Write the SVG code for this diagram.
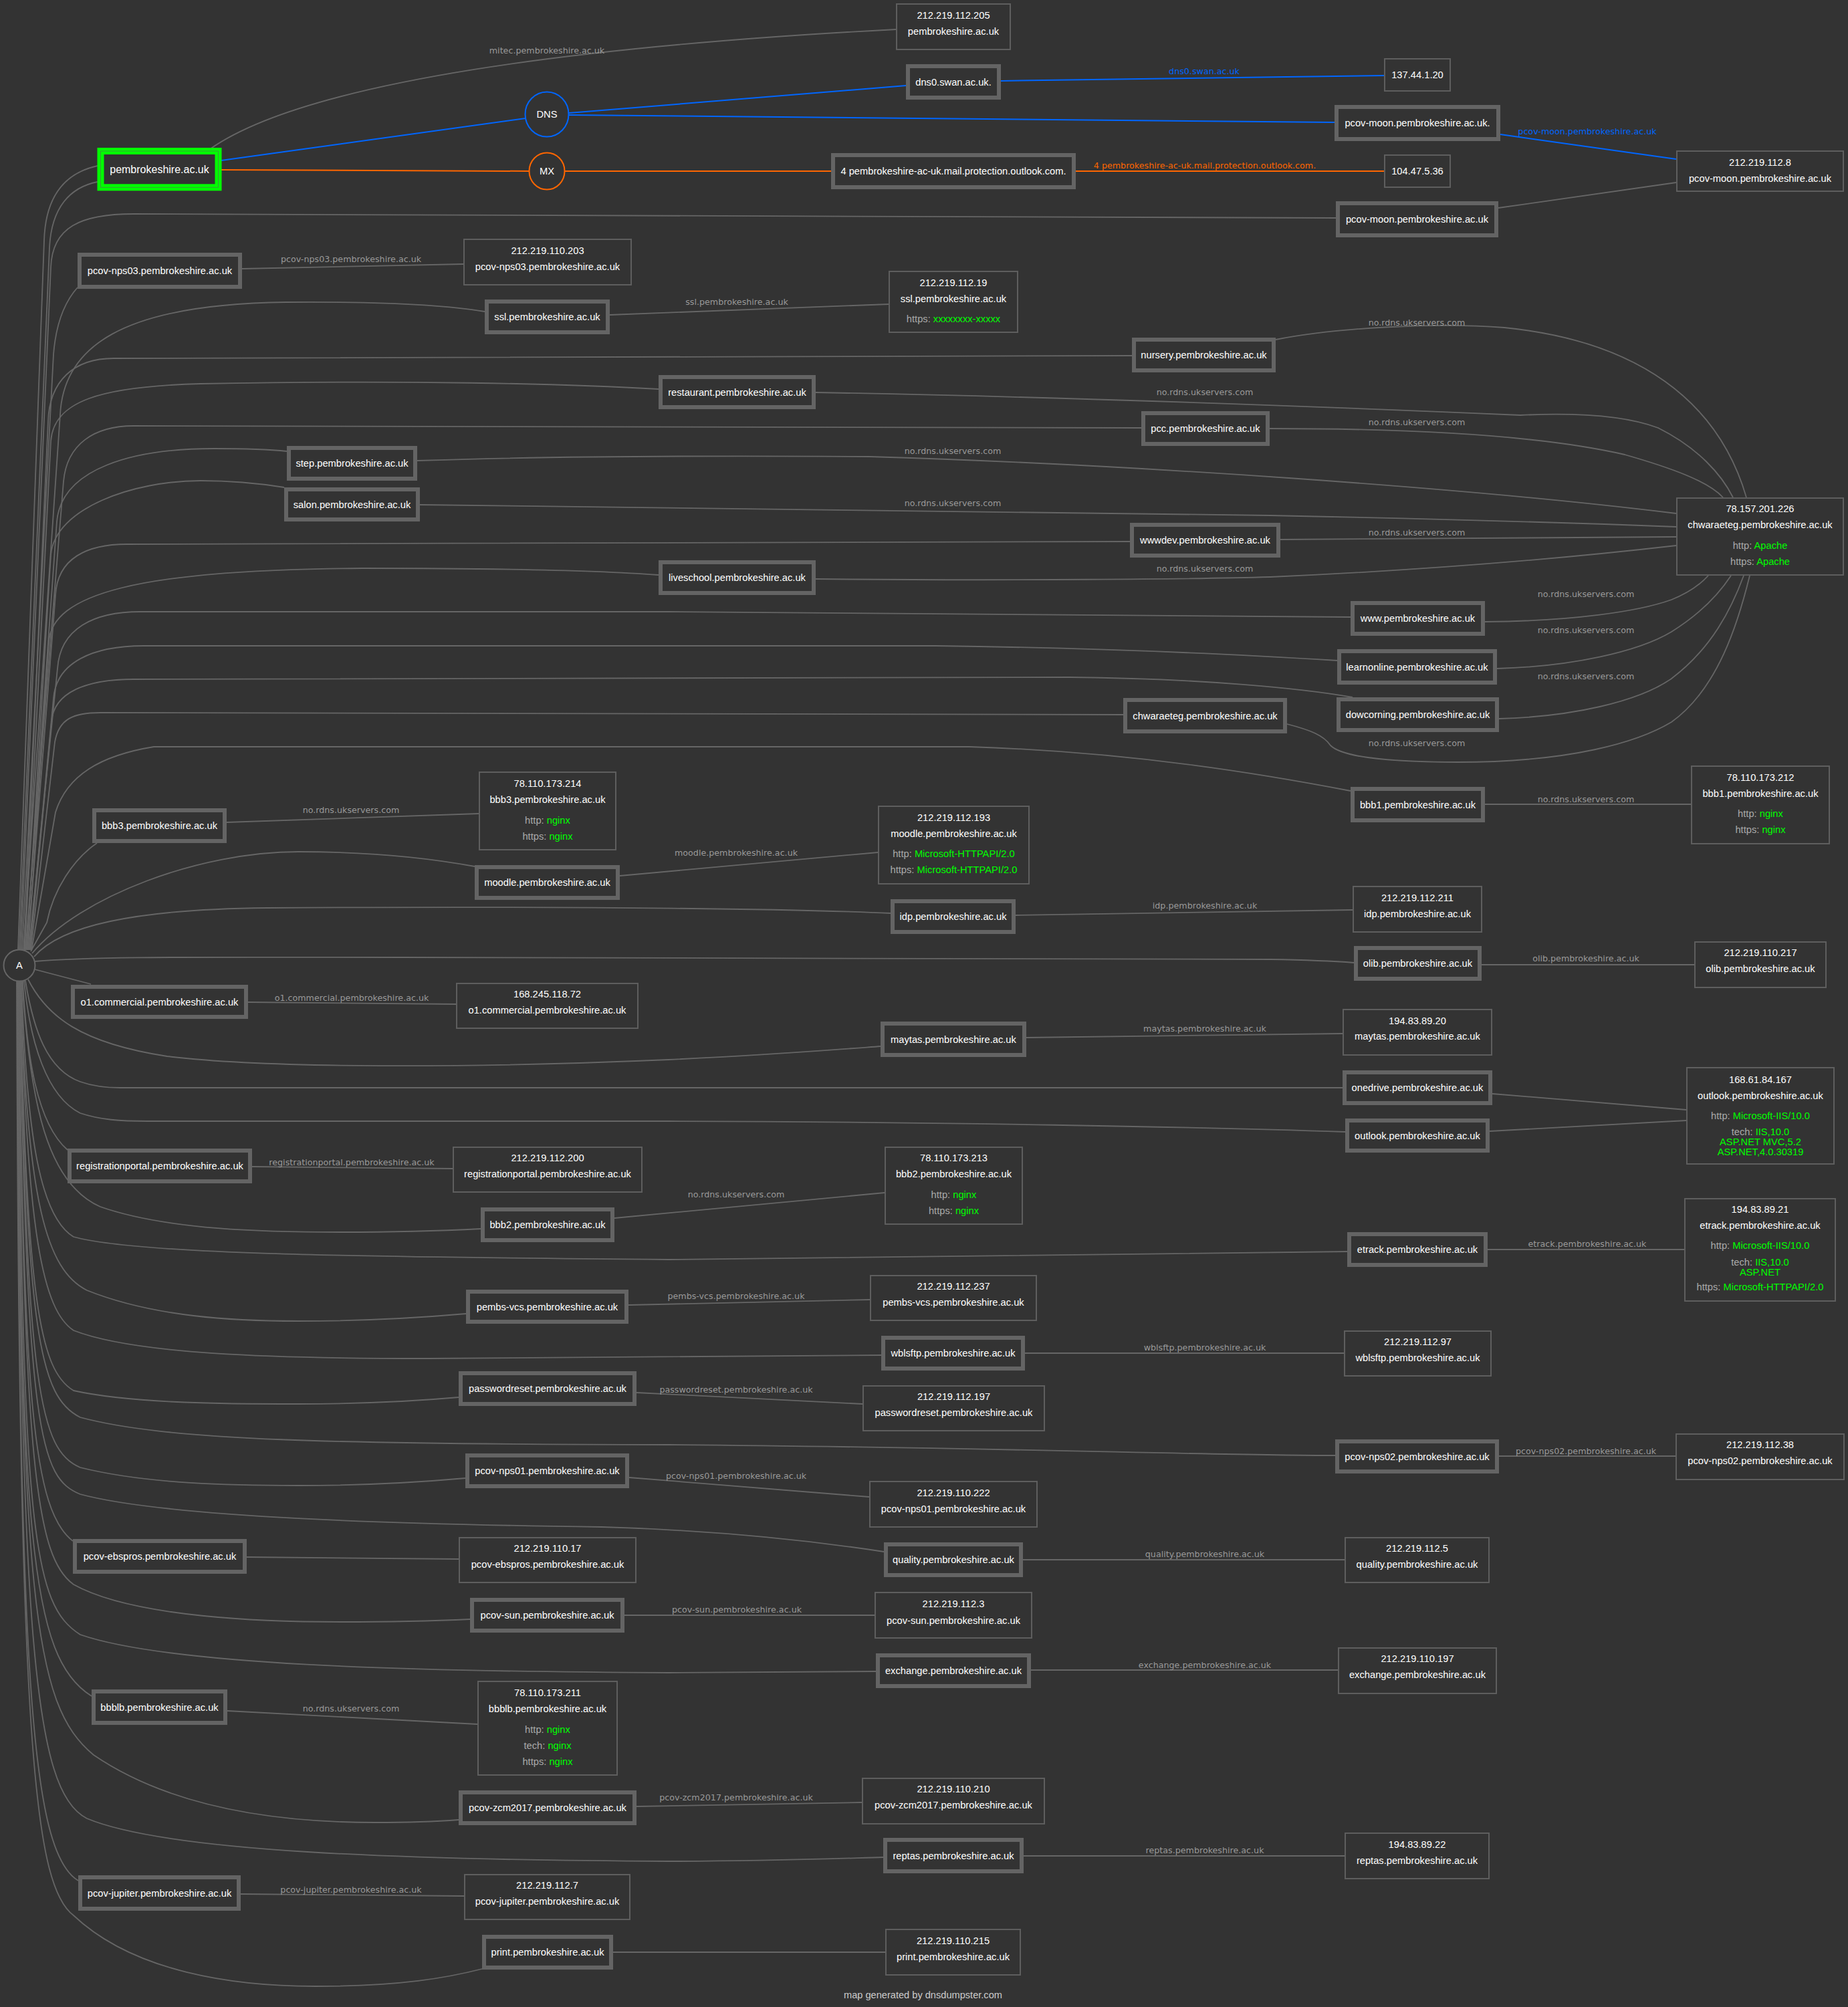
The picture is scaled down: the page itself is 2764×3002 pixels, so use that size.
<svg xmlns="http://www.w3.org/2000/svg" width="2764" height="3002" viewBox="0 0 2764 3002">
<style>
.e{fill:none;stroke:#666;stroke-width:1.8}
.eb{fill:none;stroke:#0066ff;stroke-width:2}
.eo{fill:none;stroke:#ff6600;stroke-width:2}
.l{font-family:"DejaVu Sans","Liberation Sans",sans-serif;font-size:12.7px;fill:#999;text-anchor:middle}
.lb{font-family:"DejaVu Sans","Liberation Sans",sans-serif;font-size:12.7px;fill:#0066ff;text-anchor:middle}
.lo{font-family:"DejaVu Sans","Liberation Sans",sans-serif;font-size:12.7px;fill:#ff6600;text-anchor:middle}
.d rect{fill:#333;stroke:#646464;stroke-width:6}
.ip rect{fill:#333;stroke:#5e5e5e;stroke-width:2}
.t{font-family:"Liberation Sans",Arial,sans-serif;font-size:14.7px;fill:#fff;text-anchor:middle}
.k{fill:#aaa}
.g{fill:#00ff00}
</style>
<rect x="0" y="0" width="2764" height="3002" fill="#333"/>
<g id="connectors">
<!-- A edges -->
<path class="e" d="M27,1421 L66,360 C68,290 100,258 146,248"/>
<path class="e" d="M29,1421 L74,370 C77,310 105,280 146,272"/>
<path class="e" d="M31,1421 L76,400 C78,340 120,320 200,320 L1998,326"/>
<path class="e" d="M33,1421 L80,530 C84,480 98,450 116,430"/>
<path class="e" d="M35,1421 L90,620 C95,520 180,455 428,452 C560,451 660,455 725,466"/>
<path class="e" d="M36,1421 L72,630 C74,570 110,536 170,536 L1693,532"/>
<path class="e" d="M37,1421 L76,660 C80,600 150,578 300,574 C600,568 850,574 985,582"/>
<path class="e" d="M38,1421 L95,720 C100,665 140,637 200,637 L1707,640"/>
<path class="e" d="M39,1421 L85,780 C92,700 200,671 320,671 C380,671 410,673 429,675"/>
<path class="e" d="M40,1421 L76,830 C82,760 200,719 300,719 C360,719 400,725 425,729"/>
<path class="e" d="M41,1421 L83,890 C86,835 130,814 190,814 L1690,810"/>
<path class="e" d="M42,1421 L73,960 C78,890 200,852 542,850 C800,850 920,855 985,860"/>
<path class="e" d="M43,1421 L86,1000 C90,940 140,915 210,915 L1000,915 C1500,917 1850,919 2020,923"/>
<path class="e" d="M44,1421 L80,1045 C84,990 140,966 215,966 L1400,966 C1700,970 1900,982 2000,988"/>
<path class="e" d="M45,1421 L77,1080 C80,1035 130,1016 200,1016 L1600,1013 C1800,1015 1950,1030 2023,1043"/>
<path class="e" d="M46,1421 L82,1110 C88,1075 110,1066 150,1066 L1680,1069"/>
<path class="e" d="M47,1422 L83,1215 C100,1160 150,1130 230,1117 L1450,1117 C1700,1125 1900,1160 2020,1183"/>
<path class="e" d="M46,1423 L70,1380 C80,1330 110,1285 145,1261"/>
<path class="e" d="M48,1426 C120,1340 300,1274 446,1274 C550,1274 640,1283 710,1296"/>
<path class="e" d="M51,1431 C90,1385 200,1360 400,1358 C900,1355 1200,1360 1332,1366"/>
<path class="e" d="M52,1438 C150,1430 300,1432 600,1432 L1900,1435 C1960,1436 2000,1438 2025,1440"/>
<path class="e" d="M52,1450 L136,1472"/>
<path class="e" d="M42,1465 C70,1520 120,1560 250,1580 C400,1598 700,1598 1000,1585 C1150,1578 1250,1570 1317,1565"/>
<path class="e" d="M38,1467 C50,1540 70,1600 120,1618 C140,1625 160,1627 180,1627 L2008,1627"/>
<path class="e" d="M36,1467 C45,1560 70,1640 120,1665 C150,1675 180,1677 220,1677 L1000,1677 C1400,1678 1800,1686 2012,1693"/>
<path class="e" d="M34,1467 C40,1580 55,1680 101,1720"/>
<path class="e" d="M33,1467 C45,1650 70,1770 150,1805 C250,1840 400,1843 510,1843 C600,1843 680,1840 719,1838"/>
<path class="e" d="M32,1467 C40,1700 60,1820 110,1850 C200,1875 500,1880 1000,1884 C1500,1880 1800,1874 2015,1872"/>
<path class="e" d="M31,1467 C40,1800 70,1900 130,1930 C230,1970 350,1976 446,1976 C550,1976 640,1970 697,1965"/>
<path class="e" d="M31,1467 C40,1850 65,1960 110,1990 C200,2025 400,2032 640,2032 C900,2032 1150,2030 1318,2027"/>
<path class="e" d="M30,1467 C40,1950 60,2050 110,2080 C200,2100 350,2100 446,2100 C550,2100 630,2095 686,2090"/>
<path class="e" d="M30,1467 C40,2000 60,2090 120,2120 C250,2155 500,2160 1000,2161 C1500,2165 1800,2177 1997,2177"/>
<path class="e" d="M29,1467 C40,2080 60,2170 120,2195 C220,2220 350,2222 446,2222 C550,2222 640,2216 696,2211"/>
<path class="e" d="M29,1467 C40,2150 60,2210 120,2235 C250,2270 600,2280 900,2284 C1100,2290 1250,2310 1322,2321"/>
<path class="e" d="M28,1467 C35,2100 50,2260 109,2305"/>
<path class="e" d="M28,1467 C35,2200 55,2330 110,2370 C200,2420 400,2426 510,2426 C600,2426 660,2424 703,2422"/>
<path class="e" d="M28,1467 C32,2300 50,2400 120,2445 C250,2490 600,2500 1000,2502 C1150,2502 1250,2501 1310,2500"/>
<path class="e" d="M27,1467 C30,2300 45,2480 137,2537"/>
<path class="e" d="M27,1467 C30,2400 50,2550 140,2625 C250,2700 400,2726 561,2726 C620,2726 660,2724 686,2722"/>
<path class="e" d="M26,1467 C30,2450 50,2680 130,2720 C250,2770 600,2782 1000,2784 C1150,2784 1250,2780 1321,2778"/>
<path class="e" d="M26,1467 C28,2500 45,2770 117,2813"/>
<path class="e" d="M25,1467 C28,2600 50,2820 110,2865 C200,2950 350,2971 472,2971 C600,2971 670,2958 721,2945"/>
<!-- top domain edges -->
<path class="e" d="M314,223 C460,120 880,68 1340,44"/>
<text class="l" x="818" y="80">mitec.pembrokeshire.ac.uk</text>
<path class="eb" d="M331,240 L786,177"/>
<path class="eo" d="M331,254 L792,256"/>
<path class="eb" d="M851,169 L1355,128"/>
<path class="eb" d="M851,172 L1996,183"/>
<path class="eb" d="M1497,121 L2070,113"/>
<text class="lb" x="1801" y="111">dns0.swan.ac.uk</text>
<path class="eb" d="M2244,201 L2507,238"/>
<text class="lb" x="2374" y="201">pcov-moon.pembrokeshire.ac.uk</text>
<path class="eo" d="M845,256 L1243,256"/>
<path class="eo" d="M1609,256 L2070,256"/>
<text class="lo" x="1802" y="252">4 pembrokeshire-ac-uk.mail.protection.outlook.com.</text>
<path class="e" d="M2241,311 L2507,273"/>
<path class="e" d="M362,402 L693,395"/>
<text class="l" x="525" y="392">pcov-nps03.pembrokeshire.ac.uk</text>
<path class="e" d="M912,471 L1329,455"/>
<text class="l" x="1102" y="456">ssl.pembrokeshire.ac.uk</text>
<!-- chwaraeteg IP edges -->
<path class="e" d="M1908,508 C2000,490 2150,482 2250,490 C2450,510 2570,600 2612,744"/>
<text class="l" x="2119" y="487">no.rdns.ukservers.com</text>
<path class="e" d="M1220,587 C1500,592 1900,605 2274,621 C2380,616 2440,625 2480,640 C2540,670 2575,710 2592,744"/>
<text class="l" x="1802" y="591">no.rdns.ukservers.com</text>
<path class="e" d="M1899,641 C2100,641 2300,650 2430,680 C2500,700 2555,720 2577,744"/>
<text class="l" x="2119" y="636">no.rdns.ukservers.com</text>
<path class="e" d="M624,689 C800,683 1000,681 1300,683 C1700,695 2200,730 2507,768"/>
<text class="l" x="1425" y="679">no.rdns.ukservers.com</text>
<path class="e" d="M628,755 C900,757 1400,764 1900,771 C2150,776 2350,782 2507,788"/>
<text class="l" x="1425" y="757">no.rdns.ukservers.com</text>
<path class="e" d="M1915,807 L2507,803"/>
<text class="l" x="2119" y="801">no.rdns.ukservers.com</text>
<path class="e" d="M1220,866 C1500,869 1800,866 1900,863 C2150,852 2350,834 2507,816"/>
<text class="l" x="1802" y="855">no.rdns.ukservers.com</text>
<path class="e" d="M2221,930 C2350,929 2450,915 2500,897 C2530,885 2545,872 2555,861"/>
<text class="l" x="2372" y="893">no.rdns.ukservers.com</text>
<path class="e" d="M2239,1000 C2350,997 2450,975 2500,945 C2540,920 2570,890 2589,861"/>
<text class="l" x="2372" y="947">no.rdns.ukservers.com</text>
<path class="e" d="M2242,1075 C2350,1072 2450,1050 2500,1015 C2560,970 2590,910 2608,861"/>
<text class="l" x="2372" y="1016">no.rdns.ukservers.com</text>
<path class="e" d="M1925,1083 C1960,1092 1980,1100 1990,1115 C2010,1135 2100,1140 2180,1140 C2350,1140 2450,1110 2500,1080 C2570,1030 2600,930 2617,861"/>
<text class="l" x="2119" y="1116">no.rdns.ukservers.com</text>
<!-- other domain to IP edges -->
<path class="e" d="M339,1230 L716,1217"/>
<text class="l" x="525" y="1216">no.rdns.ukservers.com</text>
<path class="e" d="M927,1310 L1313,1275"/>
<text class="l" x="1101" y="1280">moodle.pembrokeshire.ac.uk</text>
<path class="e" d="M1519,1369 L2023,1361"/>
<text class="l" x="1802" y="1359">idp.pembrokeshire.ac.uk</text>
<path class="e" d="M2221,1203 L2529,1203"/>
<text class="l" x="2372" y="1200">no.rdns.ukservers.com</text>
<path class="e" d="M2216,1443 L2534,1443"/>
<text class="l" x="2372" y="1438">olib.pembrokeshire.ac.uk</text>
<path class="e" d="M371,1499 L682,1502"/>
<text class="l" x="526" y="1497">o1.commercial.pembrokeshire.ac.uk</text>
<path class="e" d="M1535,1552 L2008,1546"/>
<text class="l" x="1802" y="1543">maytas.pembrokeshire.ac.uk</text>
<path class="e" d="M2232,1636 L2522,1660"/>
<path class="e" d="M2228,1692 L2522,1676"/>
<path class="e" d="M377,1745 L677,1748"/>
<text class="l" x="526" y="1743">registrationportal.pembrokeshire.ac.uk</text>
<path class="e" d="M919,1822 L1323,1784"/>
<text class="l" x="1101" y="1791">no.rdns.ukservers.com</text>
<path class="e" d="M2225,1869 L2519,1869"/>
<text class="l" x="2374" y="1865">etrack.pembrokeshire.ac.uk</text>
<path class="e" d="M940,1952 L1301,1944"/>
<text class="l" x="1101" y="1943">pembs-vcs.pembrokeshire.ac.uk</text>
<path class="e" d="M1533,2024 L2010,2024"/>
<text class="l" x="1802" y="2020">wblsftp.pembrokeshire.ac.uk</text>
<path class="e" d="M952,2083 L1290,2100"/>
<text class="l" x="1101" y="2083">passwordreset.pembrokeshire.ac.uk</text>
<path class="e" d="M2242,2178 L2506,2178"/>
<text class="l" x="2372" y="2175">pcov-nps02.pembrokeshire.ac.uk</text>
<path class="e" d="M941,2210 L1300,2239"/>
<text class="l" x="1101" y="2212">pcov-nps01.pembrokeshire.ac.uk</text>
<path class="e" d="M1530,2333 L2011,2333"/>
<text class="l" x="1802" y="2329">quality.pembrokeshire.ac.uk</text>
<path class="e" d="M369,2329 L686,2332"/>
<path class="e" d="M934,2416 L1308,2416"/>
<text class="l" x="1102" y="2412">pcov-sun.pembrokeshire.ac.uk</text>
<path class="e" d="M1542,2498 L2001,2498"/>
<text class="l" x="1802" y="2495">exchange.pembrokeshire.ac.uk</text>
<path class="e" d="M340,2559 L714,2579"/>
<text class="l" x="525" y="2560">no.rdns.ukservers.com</text>
<path class="e" d="M952,2702 L1289,2696"/>
<text class="l" x="1101" y="2693">pcov-zcm2017.pembrokeshire.ac.uk</text>
<path class="e" d="M1531,2776 L2011,2776"/>
<text class="l" x="1802" y="2772">reptas.pembrokeshire.ac.uk</text>
<path class="e" d="M360,2833 L694,2836"/>
<text class="l" x="525" y="2831">pcov-jupiter.pembrokeshire.ac.uk</text>
<path class="e" d="M917,2920 L1324,2920"/>
</g>

<g id="A"><circle cx="29" cy="1444" r="23.5" fill="#333" stroke="#666" stroke-width="2"/><text class="t" x="29" y="1449">A</text></g>
<g id="DNS"><ellipse cx="818" cy="171" rx="32.5" ry="33.5" fill="#333" stroke="#0066ff" stroke-width="2"/><text class="t" x="818" y="176">DNS</text></g>
<g id="MX"><ellipse cx="818" cy="256" rx="26.5" ry="27.5" fill="#333" stroke="#ff6600" stroke-width="2"/><text class="t" x="818" y="261">MX</text></g>
<g id="pembrokeshire"><rect x="150.5" y="226" width="176" height="54.3" fill="#333" stroke="#00ff00" stroke-width="10"/><rect x="150.5" y="226" width="176" height="54.3" fill="none" stroke="#3a9a3a" stroke-width="1"/><text class="t" x="238.5" y="258.5" style="font-size:16px">pembrokeshire.ac.uk</text></g>

<g id="d-pcov-moon-dns" class="d"><rect x="1999" y="160" width="242" height="48"/><text class="t" x="2120" y="189">pcov-moon.pembrokeshire.ac.uk.</text></g>
<g id="d-dns0" class="d"><rect x="1358" y="99" width="136" height="47"/><text class="t" x="1426" y="128">dns0.swan.ac.uk.</text></g>
<g id="d-mx" class="d"><rect x="1246" y="232" width="360" height="48"/><text class="t" x="1426" y="261">4 pembrokeshire-ac-uk.mail.protection.outlook.com.</text></g>
<g id="d-pcov-moon" class="d"><rect x="2001" y="304" width="237" height="48"/><text class="t" x="2119.5" y="333">pcov-moon.pembrokeshire.ac.uk</text></g>
<g id="d-pcov-nps03" class="d"><rect x="119" y="381" width="240" height="48"/><text class="t" x="239" y="410">pcov-nps03.pembrokeshire.ac.uk</text></g>
<g id="d-ssl" class="d"><rect x="728" y="451" width="181" height="46"/><text class="t" x="818.5" y="479">ssl.pembrokeshire.ac.uk</text></g>
<g id="d-nursery" class="d"><rect x="1696" y="508" width="209" height="46"/><text class="t" x="1800.5" y="536">nursery.pembrokeshire.ac.uk</text></g>
<g id="d-restaurant" class="d"><rect x="988" y="564" width="229" height="45"/><text class="t" x="1102.5" y="591.5">restaurant.pembrokeshire.ac.uk</text></g>
<g id="d-pcc" class="d"><rect x="1710" y="618" width="186" height="46"/><text class="t" x="1803" y="646">pcc.pembrokeshire.ac.uk</text></g>
<g id="d-step" class="d"><rect x="432" y="670" width="189" height="46"/><text class="t" x="526.5" y="698">step.pembrokeshire.ac.uk</text></g>
<g id="d-salon" class="d"><rect x="428" y="732" width="197" height="45"/><text class="t" x="526.5" y="759.5">salon.pembrokeshire.ac.uk</text></g>
<g id="d-wwwdev" class="d"><rect x="1693" y="785" width="219" height="46"/><text class="t" x="1802.5" y="813">wwwdev.pembrokeshire.ac.uk</text></g>
<g id="d-liveschool" class="d"><rect x="988" y="841" width="229" height="46"/><text class="t" x="1102.5" y="869">liveschool.pembrokeshire.ac.uk</text></g>
<g id="d-www" class="d"><rect x="2023" y="902" width="195" height="46"/><text class="t" x="2120.5" y="930">www.pembrokeshire.ac.uk</text></g>
<g id="d-learnonline" class="d"><rect x="2003" y="974" width="233" height="47"/><text class="t" x="2119.5" y="1002.5">learnonline.pembrokeshire.ac.uk</text></g>
<g id="d-dowcorning" class="d"><rect x="2002" y="1046" width="237" height="46"/><text class="t" x="2120.5" y="1074">dowcorning.pembrokeshire.ac.uk</text></g>
<g id="d-chwaraeteg" class="d"><rect x="1683" y="1047" width="239" height="47"/><text class="t" x="1802.5" y="1075.5">chwaraeteg.pembrokeshire.ac.uk</text></g>
<g id="d-bbb1" class="d"><rect x="2023" y="1180" width="195" height="47"/><text class="t" x="2120.5" y="1208.5">bbb1.pembrokeshire.ac.uk</text></g>
<g id="d-bbb3" class="d"><rect x="141" y="1212" width="195" height="46"/><text class="t" x="238.5" y="1240">bbb3.pembrokeshire.ac.uk</text></g>
<g id="d-moodle" class="d"><rect x="713" y="1297" width="211" height="46"/><text class="t" x="818.5" y="1325">moodle.pembrokeshire.ac.uk</text></g>
<g id="d-idp" class="d"><rect x="1335" y="1348" width="181" height="46"/><text class="t" x="1425.5" y="1376">idp.pembrokeshire.ac.uk</text></g>
<g id="d-olib" class="d"><rect x="2028" y="1418" width="185" height="46"/><text class="t" x="2120.5" y="1446">olib.pembrokeshire.ac.uk</text></g>
<g id="d-o1commercial" class="d"><rect x="109" y="1476" width="259" height="45"/><text class="t" x="238.5" y="1503.5">o1.commercial.pembrokeshire.ac.uk</text></g>
<g id="d-maytas" class="d"><rect x="1320" y="1531" width="212" height="47"/><text class="t" x="1426" y="1559.5">maytas.pembrokeshire.ac.uk</text></g>
<g id="d-onedrive" class="d"><rect x="2011" y="1604" width="218" height="46"/><text class="t" x="2120" y="1632">onedrive.pembrokeshire.ac.uk</text></g>
<g id="d-outlook" class="d"><rect x="2015" y="1676" width="210" height="45"/><text class="t" x="2120" y="1703.5">outlook.pembrokeshire.ac.uk</text></g>
<g id="d-registrationportal" class="d"><rect x="104" y="1721" width="270" height="46"/><text class="t" x="239" y="1749">registrationportal.pembrokeshire.ac.uk</text></g>
<g id="d-bbb2" class="d"><rect x="722" y="1809" width="194" height="46"/><text class="t" x="819" y="1837">bbb2.pembrokeshire.ac.uk</text></g>
<g id="d-etrack" class="d"><rect x="2018" y="1846" width="204" height="46"/><text class="t" x="2120" y="1874">etrack.pembrokeshire.ac.uk</text></g>
<g id="d-pembs-vcs" class="d"><rect x="700" y="1932" width="237" height="45"/><text class="t" x="818.5" y="1959.5">pembs-vcs.pembrokeshire.ac.uk</text></g>
<g id="d-wblsftp" class="d"><rect x="1321" y="2001" width="209" height="46"/><text class="t" x="1425.5" y="2029">wblsftp.pembrokeshire.ac.uk</text></g>
<g id="d-passwordreset" class="d"><rect x="689" y="2054" width="260" height="46"/><text class="t" x="819" y="2082">passwordreset.pembrokeshire.ac.uk</text></g>
<g id="d-pcov-nps02" class="d"><rect x="2000" y="2156" width="239" height="45"/><text class="t" x="2119.5" y="2183.5">pcov-nps02.pembrokeshire.ac.uk</text></g>
<g id="d-pcov-nps01" class="d"><rect x="699" y="2177" width="239" height="46"/><text class="t" x="818.5" y="2205">pcov-nps01.pembrokeshire.ac.uk</text></g>
<g id="d-quality" class="d"><rect x="1325" y="2310" width="202" height="46"/><text class="t" x="1426" y="2338">quality.pembrokeshire.ac.uk</text></g>
<g id="d-pcov-ebspros" class="d"><rect x="112" y="2305" width="254" height="46"/><text class="t" x="239" y="2333">pcov-ebspros.pembrokeshire.ac.uk</text></g>
<g id="d-pcov-sun" class="d"><rect x="706" y="2393" width="225" height="46"/><text class="t" x="818.5" y="2421">pcov-sun.pembrokeshire.ac.uk</text></g>
<g id="d-exchange" class="d"><rect x="1313" y="2476" width="226" height="46"/><text class="t" x="1426" y="2504">exchange.pembrokeshire.ac.uk</text></g>
<g id="d-bbblb" class="d"><rect x="140" y="2530" width="197" height="47"/><text class="t" x="238.5" y="2558.5">bbblb.pembrokeshire.ac.uk</text></g>
<g id="d-pcov-zcm2017" class="d"><rect x="689" y="2681" width="260" height="46"/><text class="t" x="819" y="2709">pcov-zcm2017.pembrokeshire.ac.uk</text></g>
<g id="d-reptas" class="d"><rect x="1324" y="2752" width="204" height="47"/><text class="t" x="1426" y="2780.5">reptas.pembrokeshire.ac.uk</text></g>
<g id="d-pcov-jupiter" class="d"><rect x="120" y="2808" width="237" height="47"/><text class="t" x="238.5" y="2836.5">pcov-jupiter.pembrokeshire.ac.uk</text></g>
<g id="d-print" class="d"><rect x="724" y="2897" width="190" height="46"/><text class="t" x="819" y="2925">print.pembrokeshire.ac.uk</text></g>

<g id="ip-212-219-112-205" class="ip"><rect x="1341" y="6" width="170" height="68"/><text class="t" x="1426" y="28">212.219.112.205</text><text class="t" x="1426" y="52">pembrokeshire.ac.uk</text></g>
<g id="ip-137-44-1-20" class="ip"><rect x="2071" y="88" width="98" height="48"/><text class="t" x="2120" y="117">137.44.1.20</text></g>
<g id="ip-104-47-5-36" class="ip"><rect x="2071" y="232" width="98" height="48"/><text class="t" x="2120" y="261">104.47.5.36</text></g>
<g id="ip-212-219-112-8" class="ip"><rect x="2508" y="226" width="249" height="60"/><text class="t" x="2632.5" y="248">212.219.112.8</text><text class="t" x="2632.5" y="272">pcov-moon.pembrokeshire.ac.uk</text></g>
<g id="ip-212-219-110-203" class="ip"><rect x="694" y="358" width="250" height="68"/><text class="t" x="819" y="380">212.219.110.203</text><text class="t" x="819" y="404">pcov-nps03.pembrokeshire.ac.uk</text></g>
<g id="ip-212-219-112-19" class="ip"><rect x="1330" y="406" width="192" height="91"/><text class="t" x="1426" y="428">212.219.112.19</text><text class="t" x="1426" y="452">ssl.pembrokeshire.ac.uk</text><text class="t" x="1426" y="482"><tspan class="k">https: </tspan><tspan class="g">xxxxxxxx-xxxxx</tspan></text></g>
<g id="ip-78-157-201-226" class="ip"><rect x="2508" y="745" width="249" height="115"/><text class="t" x="2632.5" y="766">78.157.201.226</text><text class="t" x="2632.5" y="790">chwaraeteg.pembrokeshire.ac.uk</text><text class="t" x="2632.5" y="821"><tspan class="k">http: </tspan><tspan class="g">Apache</tspan></text><text class="t" x="2632.5" y="845"><tspan class="k">https: </tspan><tspan class="g">Apache</tspan></text></g>
<g id="ip-78-110-173-214" class="ip"><rect x="717" y="1155" width="204" height="116"/><text class="t" x="819" y="1177">78.110.173.214</text><text class="t" x="819" y="1201">bbb3.pembrokeshire.ac.uk</text><text class="t" x="819" y="1232"><tspan class="k">http: </tspan><tspan class="g">nginx</tspan></text><text class="t" x="819" y="1256"><tspan class="k">https: </tspan><tspan class="g">nginx</tspan></text></g>
<g id="ip-212-219-112-193" class="ip"><rect x="1314" y="1206" width="225" height="116"/><text class="t" x="1426.5" y="1228">212.219.112.193</text><text class="t" x="1426.5" y="1252">moodle.pembrokeshire.ac.uk</text><text class="t" x="1426.5" y="1282"><tspan class="k">http: </tspan><tspan class="g">Microsoft-HTTPAPI/2.0</tspan></text><text class="t" x="1426.5" y="1306"><tspan class="k">https: </tspan><tspan class="g">Microsoft-HTTPAPI/2.0</tspan></text></g>
<g id="ip-78-110-173-212" class="ip"><rect x="2530" y="1146" width="206" height="116"/><text class="t" x="2633" y="1168">78.110.173.212</text><text class="t" x="2633" y="1192">bbb1.pembrokeshire.ac.uk</text><text class="t" x="2633" y="1222"><tspan class="k">http: </tspan><tspan class="g">nginx</tspan></text><text class="t" x="2633" y="1246"><tspan class="k">https: </tspan><tspan class="g">nginx</tspan></text></g>
<g id="ip-212-219-112-211" class="ip"><rect x="2024" y="1326" width="192" height="68"/><text class="t" x="2120" y="1348">212.219.112.211</text><text class="t" x="2120" y="1372">idp.pembrokeshire.ac.uk</text></g>
<g id="ip-212-219-110-217" class="ip"><rect x="2535" y="1409" width="196" height="68"/><text class="t" x="2633" y="1430">212.219.110.217</text><text class="t" x="2633" y="1454">olib.pembrokeshire.ac.uk</text></g>
<g id="ip-168-245-118-72" class="ip"><rect x="683" y="1471" width="271" height="67"/><text class="t" x="818.5" y="1492">168.245.118.72</text><text class="t" x="818.5" y="1516">o1.commercial.pembrokeshire.ac.uk</text></g>
<g id="ip-194-83-89-20" class="ip"><rect x="2009" y="1510" width="222" height="68"/><text class="t" x="2120" y="1532">194.83.89.20</text><text class="t" x="2120" y="1555">maytas.pembrokeshire.ac.uk</text></g>
<g id="ip-168-61-84-167" class="ip"><rect x="2523" y="1597" width="220" height="144"/><text class="t" x="2633" y="1620">168.61.84.167</text><text class="t" x="2633" y="1644">outlook.pembrokeshire.ac.uk</text><text class="t" x="2633" y="1674"><tspan class="k">http: </tspan><tspan class="g">Microsoft-IIS/10.0</tspan></text><text class="t" x="2633" y="1698"><tspan class="k">tech: </tspan><tspan class="g">IIS,10.0</tspan></text><text class="t g" x="2633" y="1713">ASP.NET MVC,5.2</text><text class="t g" x="2633" y="1727.5">ASP.NET,4.0.30319</text></g>
<g id="ip-212-219-112-200" class="ip"><rect x="678" y="1716" width="282" height="67"/><text class="t" x="819" y="1737">212.219.112.200</text><text class="t" x="819" y="1761">registrationportal.pembrokeshire.ac.uk</text></g>
<g id="ip-78-110-173-213" class="ip"><rect x="1324" y="1716" width="205" height="115"/><text class="t" x="1426.5" y="1737">78.110.173.213</text><text class="t" x="1426.5" y="1761">bbb2.pembrokeshire.ac.uk</text><text class="t" x="1426.5" y="1792"><tspan class="k">http: </tspan><tspan class="g">nginx</tspan></text><text class="t" x="1426.5" y="1816"><tspan class="k">https: </tspan><tspan class="g">nginx</tspan></text></g>
<g id="ip-194-83-89-21" class="ip"><rect x="2520" y="1793" width="225" height="153"/><text class="t" x="2632.5" y="1814">194.83.89.21</text><text class="t" x="2632.5" y="1838">etrack.pembrokeshire.ac.uk</text><text class="t" x="2632.5" y="1868"><tspan class="k">http: </tspan><tspan class="g">Microsoft-IIS/10.0</tspan></text><text class="t" x="2632.5" y="1893"><tspan class="k">tech: </tspan><tspan class="g">IIS,10.0</tspan></text><text class="t g" x="2632.5" y="1907.5">ASP.NET</text><text class="t" x="2632.5" y="1930"><tspan class="k">https: </tspan><tspan class="g">Microsoft-HTTPAPI/2.0</tspan></text></g>
<g id="ip-212-219-112-237" class="ip"><rect x="1302" y="1908" width="248" height="67"/><text class="t" x="1426" y="1929">212.219.112.237</text><text class="t" x="1426" y="1953">pembs-vcs.pembrokeshire.ac.uk</text></g>
<g id="ip-212-219-112-97" class="ip"><rect x="2011" y="1991" width="219" height="67"/><text class="t" x="2120.5" y="2012">212.219.112.97</text><text class="t" x="2120.5" y="2036">wblsftp.pembrokeshire.ac.uk</text></g>
<g id="ip-212-219-112-197" class="ip"><rect x="1291" y="2073" width="271" height="67"/><text class="t" x="1426.5" y="2094">212.219.112.197</text><text class="t" x="1426.5" y="2118">passwordreset.pembrokeshire.ac.uk</text></g>
<g id="ip-212-219-112-38" class="ip"><rect x="2507" y="2145" width="251" height="68"/><text class="t" x="2632.5" y="2166">212.219.112.38</text><text class="t" x="2632.5" y="2190">pcov-nps02.pembrokeshire.ac.uk</text></g>
<g id="ip-212-219-110-222" class="ip"><rect x="1301" y="2216" width="250" height="68"/><text class="t" x="1426" y="2238">212.219.110.222</text><text class="t" x="1426" y="2262">pcov-nps01.pembrokeshire.ac.uk</text></g>
<g id="ip-212-219-110-17" class="ip"><rect x="687" y="2300" width="264" height="67"/><text class="t" x="819" y="2321">212.219.110.17</text><text class="t" x="819" y="2345">pcov-ebspros.pembrokeshire.ac.uk</text></g>
<g id="ip-212-219-112-5" class="ip"><rect x="2012" y="2300" width="215" height="67"/><text class="t" x="2119.5" y="2321">212.219.112.5</text><text class="t" x="2119.5" y="2345">quality.pembrokeshire.ac.uk</text></g>
<g id="ip-212-219-112-3" class="ip"><rect x="1309" y="2382" width="234" height="68"/><text class="t" x="1426" y="2404">212.219.112.3</text><text class="t" x="1426" y="2429">pcov-sun.pembrokeshire.ac.uk</text></g>
<g id="ip-212-219-110-197" class="ip"><rect x="2002" y="2465" width="236" height="68"/><text class="t" x="2120" y="2486">212.219.110.197</text><text class="t" x="2120" y="2510">exchange.pembrokeshire.ac.uk</text></g>
<g id="ip-78-110-173-211" class="ip"><rect x="715" y="2515" width="208" height="140"/><text class="t" x="819" y="2537">78.110.173.211</text><text class="t" x="819" y="2561">bbblb.pembrokeshire.ac.uk</text><text class="t" x="819" y="2592"><tspan class="k">http: </tspan><tspan class="g">nginx</tspan></text><text class="t" x="819" y="2616"><tspan class="k">tech: </tspan><tspan class="g">nginx</tspan></text><text class="t" x="819" y="2640"><tspan class="k">https: </tspan><tspan class="g">nginx</tspan></text></g>
<g id="ip-212-219-110-210" class="ip"><rect x="1290" y="2660" width="272" height="68"/><text class="t" x="1426" y="2681">212.219.110.210</text><text class="t" x="1426" y="2705">pcov-zcm2017.pembrokeshire.ac.uk</text></g>
<g id="ip-194-83-89-22" class="ip"><rect x="2012" y="2742" width="215" height="68"/><text class="t" x="2119.5" y="2764">194.83.89.22</text><text class="t" x="2119.5" y="2788">reptas.pembrokeshire.ac.uk</text></g>
<g id="ip-212-219-112-7" class="ip"><rect x="695" y="2804" width="247" height="67"/><text class="t" x="818.5" y="2825">212.219.112.7</text><text class="t" x="818.5" y="2849">pcov-jupiter.pembrokeshire.ac.uk</text></g>
<g id="ip-212-219-110-215" class="ip"><rect x="1325" y="2886" width="201" height="68"/><text class="t" x="1425.5" y="2908">212.219.110.215</text><text class="t" x="1425.5" y="2932">print.pembrokeshire.ac.uk</text></g>

<text x="1380.5" y="2988.5" style="font-family:'Liberation Sans',Arial,sans-serif;font-size:14.6px;fill:#ccc;text-anchor:middle">map generated by dnsdumpster.com</text>
</svg>
